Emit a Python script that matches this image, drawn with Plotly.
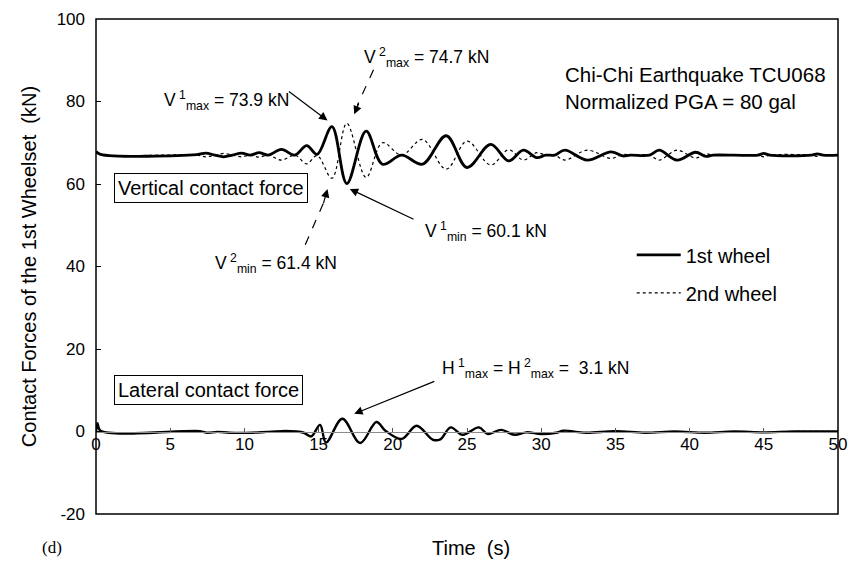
import plotly.graph_objects as go

# ---- vertical contact force, turning points (time in s, force in kN) ----
vert_time = [0.0, 0.3, 6.8, 7.4, 8.0, 8.6, 9.2, 9.8, 10.4, 11.0, 11.6, 12.5, 13.4,
             14.2, 14.9, 15.9, 16.9, 18.2, 19.3, 20.6, 22.0, 23.6, 25.0, 26.6,
             27.8, 28.8, 29.7, 30.3, 30.9, 31.6, 33.1, 34.7, 35.5, 36.0, 37.3,
             37.95, 39.15, 40.4, 41.1, 41.6, 44.6, 45.0, 45.4, 48.2, 48.6, 49.0, 50.0]
vert_wheel1 = [67.9, 67.2, 67.1, 67.5, 67.0, 66.6, 67.0, 67.5, 67.0, 67.6, 67.0, 68.4, 67.0,
               69.3, 67.2, 73.9, 60.1, 72.8, 64.8, 67.0, 64.8, 71.7, 64.0, 69.6,
               65.6, 68.2, 66.4, 67.0, 67.0, 68.2, 65.8, 67.8, 66.8, 67.0, 67.0,
               68.2, 65.8, 67.7, 66.7, 67.0, 67.0, 67.4, 67.0, 67.0, 67.3, 67.0, 67.0]
vert_wheel2 = [67.9, 67.2, 67.0, 66.6, 67.0, 67.4, 67.0, 66.6, 67.0, 66.5, 67.0, 65.8, 67.0,
               64.9, 66.9, 61.4, 74.7, 61.6, 70.0, 67.0, 70.8, 63.6, 70.4, 64.6,
               68.3, 65.8, 67.6, 67.0, 67.0, 65.8, 68.2, 66.2, 67.2, 67.0, 67.0,
               65.8, 68.2, 66.3, 67.3, 67.0, 67.0, 66.6, 67.0, 67.0, 66.7, 67.0, 67.0]

# ---- lateral contact force (identical for both wheels) ----
lat_time = [0.0, 0.1, 0.3, 7.0, 7.5, 8.2, 9.0, 10.5, 11.5, 12.5, 13.5, 14.0, 14.5, 15.1,
            15.5, 16.6, 17.8, 18.9, 19.5, 20.6, 21.6, 22.7, 23.2, 23.9, 24.7, 25.8,
            26.4, 27.3, 28.2, 29.0, 30.0, 31.0, 31.5, 33.0, 35.0, 37.0, 39.0, 41.0,
            43.0, 45.0, 47.0, 50.0]
lat_force = [0.0, 2.0, 0.2, 0.1, -0.3, -0.1, -0.3, -0.3, -0.1, 0.1, 0.0, -0.3, -1.2, 1.6,
             -2.7, 3.1, -2.8, 2.3, 0.2, -1.8, 1.4, -2.0, -1.9, 1.0, -0.8, 1.0,
             -0.6, 0.4, -0.8, -0.2, -0.6, -0.3, 0.2, -0.3, 0.1, -0.3, 0.0, -0.3,
             0.0, -0.2, 0.0, 0.0]

y_ticks = [-20, 0, 20, 40, 60, 80, 100]
x_ticks = [0, 5, 10, 15, 20, 25, 30, 35, 40, 45, 50]

FONT = "Arial, Liberation Sans, sans-serif"

fig = go.Figure()

fig.add_trace(go.Scatter(x=vert_time, y=vert_wheel2, mode="lines", name="2nd wheel",
                         line=dict(color="black", width=1.2, dash="dot", shape="spline", smoothing=1.0),
                         legendgroup="w2", legendrank=2))
fig.add_trace(go.Scatter(x=vert_time, y=vert_wheel1, mode="lines", name="1st wheel",
                         line=dict(color="black", width=2.8, shape="spline", smoothing=1.0),
                         legendgroup="w1", legendrank=1))
fig.add_trace(go.Scatter(x=lat_time, y=lat_force, mode="lines", showlegend=False,
                         line=dict(color="black", width=1.2, dash="dot", shape="spline", smoothing=1.0)))
fig.add_trace(go.Scatter(x=lat_time, y=lat_force, mode="lines", showlegend=False,
                         line=dict(color="black", width=2.4, shape="spline", smoothing=1.0)))

ann = []
txt = dict(showarrow=False, font=dict(family=FONT, size=17.5, color="black"))
ann.append(dict(x=8.8, y=80.2, text="V<sup> 1</sup><sub>max</sub> = 73.9 kN", **txt))
ann.append(dict(x=22.3, y=90.6, text="V<sup> 2</sup><sub>max</sub> = 74.7 kN", **txt))
ann.append(dict(x=12.1, y=40.7, text="V<sup> 2</sup><sub>min</sub> = 61.4 kN", **txt))
ann.append(dict(x=26.3, y=48.4, text="V<sup> 1</sup><sub>min</sub> = 60.1 kN", **txt))
ann.append(dict(x=29.6, y=15.2, text="H<sup> 1</sup><sub>max</sub> = H<sup> 2</sup><sub>max</sub> =  3.1 kN", **txt))
ann.append(dict(x=31.45, y=83.3, xanchor="left", align="left", showarrow=False,
                text="Chi-Chi Earthquake TCU068<br>Normalized PGA = 80 gal",
                font=dict(family=FONT, size=20.5, color="black")))
box = dict(showarrow=False, bordercolor="black", borderwidth=1, borderpad=3, bgcolor="white",
           font=dict(family=FONT, size=20, color="black"))
ann.append(dict(x=7.75, y=59.0, text="Vertical contact force", **box))
ann.append(dict(x=7.55, y=10.1, text="Lateral contact force", **box))

# solid arrows
arrow = dict(text="", showarrow=True, axref="x", ayref="y", arrowhead=2, arrowsize=1.4,
             arrowwidth=1.2, arrowcolor="black")
ann.append(dict(x=15.6, y=75.4, ax=12.9, ay=82.7, **arrow))
ann.append(dict(x=17.1, y=58.8, ax=21.5, ay=51.3, **arrow))
ann.append(dict(x=17.4, y=4.3, ax=22.9, ay=12.3, **arrow))
# dashed arrows: dashed shaft drawn as a shape, head as a short annotation arrow
ann.append(dict(x=17.4, y=76.9, ax=17.75, ay=79.9, **arrow))
ann.append(dict(x=15.6, y=58.8, ax=15.3, ay=55.0, **arrow))

# axis / page labels
ann.append(dict(x=0.505, y=-0.068, xref="paper", yref="paper", yanchor="middle", text="Time  (s)",
                showarrow=False, font=dict(family=FONT, size=20, color="black")))
ann.append(dict(x=-0.075, y=-0.068, xref="paper", yref="paper", yanchor="middle", text="(d)",
                showarrow=False, font=dict(family="Liberation Serif, Times New Roman, serif", size=17, color="black")))

shapes = [
    dict(type="line", xref="x", yref="y", x0=18.7, y0=87.7, x1=17.6, y1=79.0,
         line=dict(color="black", width=1.2, dash="dash")),
    dict(type="line", xref="x", yref="y", x0=14.1, y0=45.3, x1=15.4, y1=56.0,
         line=dict(color="black", width=1.2, dash="dash")),
    dict(type="rect", xref="paper", yref="paper", x0=0, y0=0, x1=1, y1=1,
         line=dict(color="black", width=1.5)),
]

fig.update_layout(
    width=857, height=566,
    margin=dict(l=96, r=10, t=16, b=52),
    paper_bgcolor="white", plot_bgcolor="white",
    font=dict(family=FONT, size=17, color="black"),
    annotations=ann, shapes=shapes,
    showlegend=True,
    legend=dict(x=0.722, y=0.563, xanchor="left", yanchor="top", bgcolor="rgba(0,0,0,0)",
                font=dict(family=FONT, size=20), tracegroupgap=9, itemwidth=44,
                traceorder="grouped"),
    xaxis=dict(range=[0, 50], tickvals=x_ticks, ticktext=[str(v) for v in x_ticks],
               anchor="free", position=20 / 120, showline=True, linecolor="#8a8a8a", linewidth=1,
               ticks="inside", ticklen=4, tickcolor="#555", showgrid=False, zeroline=False,
               ticklabelstandoff=-3, ticklabeloverflow="allow", tickfont=dict(family=FONT, size=17)),
    yaxis=dict(range=[-20, 100], tickvals=y_ticks, ticktext=[str(v) for v in y_ticks],
               ticks="inside", ticklen=5, tickcolor="black", showgrid=False, zeroline=False,
               showline=False, ticklabelstandoff=10,
               tickfont=dict(family=FONT, size=17),
               title=dict(text="Contact Forces of the 1st Wheelset  (kN)", standoff=14,
                          font=dict(family=FONT, size=20))),
)

fig.write_html("out.html")
